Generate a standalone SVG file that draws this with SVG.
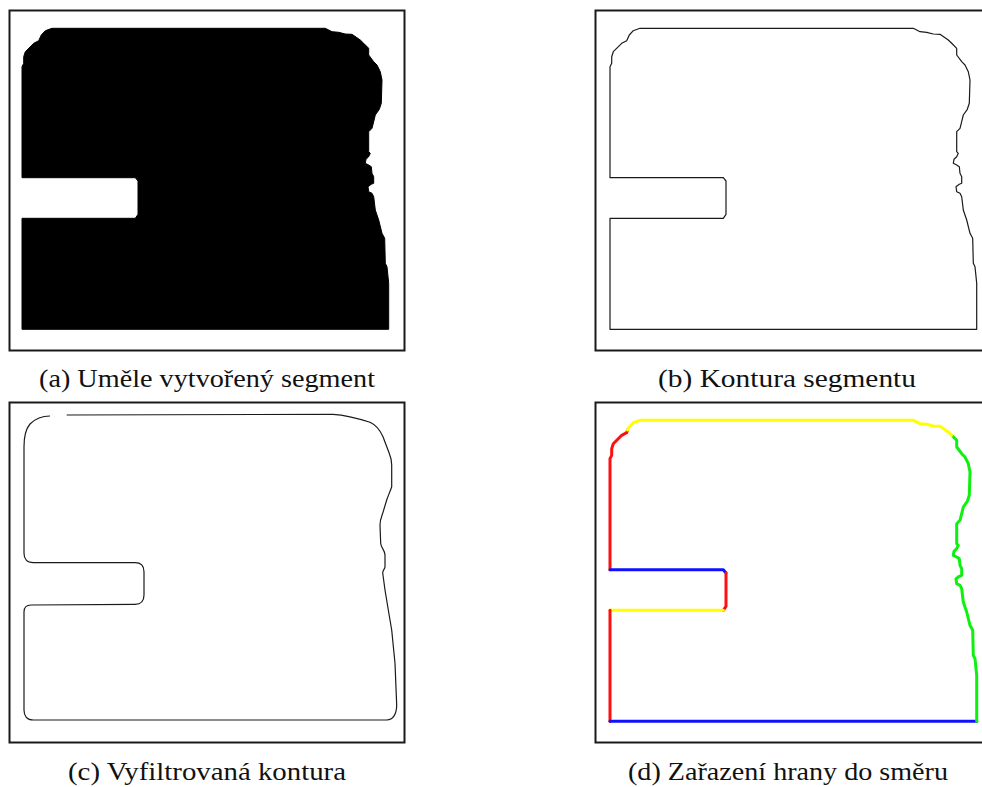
<svg xmlns="http://www.w3.org/2000/svg" width="982" height="787" viewBox="0 0 982 787">
  <defs>
    <!-- outline of the artificial segment, in panel (b) coordinates -->
    <path id="seg" d="M640,28.3 L913.3,28.3 L920,31.7 L926.7,32.3 L933.3,34 L940,34.3 L948.3,40 L951.7,43.3 L956.7,48.3 L956.7,55 L961.7,61.7 L965,65 L968.3,71.7 L970,80 L969.3,103.3 L967.3,109.3 L963.3,115 L961.7,121.7 L960,128.3 L956.7,131.7 L956.7,151.7 L958.3,153.3 L956.7,156.7 L954,159.3 L953.3,163.3 L956.7,165 L959.3,166.7 L960,173.3 L961.7,176.7 L961.7,183.3 L959.3,184.3 L956,186.7 L956.7,191.7 L960,193.3 L961.7,196.7 L963.3,210 L966.7,220 L970,233.3 L972.7,238.3 L973.3,263.3 L975,266.7 L976.7,283.3 L976.7,329.3 L610,329.3 L610,218.3 L723.3,218.3 L726,214.3 L726,181 L723.3,177.7 L610,177.7 L610,66.7 L611.7,63.3 L611.7,56.7 L613.3,51.7 L621.7,43.3 L626.7,40.7 L629.3,35 L633.3,30.7 Z"/>
  </defs>
  <style>
    .frame { fill: none; stroke: #1a1a1a; stroke-width: 2; }
    .thin { fill: none; stroke: #1a1a1a; stroke-width: 1.2; stroke-linejoin: round; }
    .dir { fill: none; stroke-width: 3; stroke-linejoin: round; stroke-linecap: round; }
    .cap { font-family: "Liberation Serif", "DejaVu Serif", serif; font-size: 26px; fill: #111; text-anchor: middle; }
  </style>
  <rect width="982" height="787" fill="#fff"/>

  <!-- (a) filled segment -->
  <g id="panel-a">
    <rect class="frame" x="9.5" y="10.5" width="395" height="340"/>
    <use href="#seg" transform="translate(-588,0)" fill="#000" stroke="#000" stroke-width="1"/>
    <text class="cap" x="207" y="387" textLength="336" lengthAdjust="spacingAndGlyphs">(a) Uměle vytvořený segment</text>
  </g>

  <!-- (b) segment contour -->
  <g id="panel-b">
    <rect class="frame" x="595.5" y="10.5" width="400" height="340"/>
    <use href="#seg" class="thin"/>
    <text class="cap" x="787" y="387" textLength="258" lengthAdjust="spacingAndGlyphs">(b) Kontura segmentu</text>
  </g>

  <!-- (c) filtered contour -->
  <g id="panel-c">
    <rect class="frame" x="9.5" y="402.5" width="395" height="340"/>
    <path class="thin" stroke-width="1.4" d="M66.7,415 L333,414.3 C345,415 360,419 370,422.3 C376,425 380,430 383,436.7 L388,450 C390,455 391.7,458 391.7,465 L391.7,486.7 C390,492 388,496 386.7,500 L382.7,513.3 C381,518 380,520 380,525 L380.7,543.3 C381,548 385,550 385,555 L385,566.7 C385,569 382.7,570 382.7,573 L385,590 L388.3,610 L391.7,630 L395,663.3 L396.7,705 C396.7,714 393,720 386.7,720 L33.3,720 C27,720 24,716 24,710 L24,612 C24,607 26,605 31,605 L135,604.3 C141,604.3 144,601 144,595 L144,571.7 C144,566 141,562.7 135,562.7 L33.3,562.7 C27,562.7 24,559 24,553.3 L24,446.7 C24,438 25,430 30,424 C35,419 42,416 50,416"/>
    <text class="cap" x="207" y="780" textLength="278" lengthAdjust="spacingAndGlyphs">(c) Vyfiltrovaná kontura</text>
  </g>

  <!-- (d) edges classified by direction -->
  <g id="panel-d">
    <rect class="frame" x="595.5" y="402.5" width="400" height="340"/>
    <g transform="translate(0,392)">
      <path class="dir" stroke="#ff1010" d="M627.5,38 L626.7,40.7 L621.7,43.3 L613.3,51.7 L611.7,56.7 L611.7,63.3 L610,66.7 L610,177.7"/>
      <path class="dir" stroke="#1010ff" d="M610,177.7 L723.3,177.7 L726,181"/>
      <path class="dir" stroke="#ff1010" d="M726,181 L726,214.3 L723.3,218.3"/>
      <path class="dir" stroke="#ffff00" d="M723.3,218.3 L610,218.3"/>
      <path class="dir" stroke="#ff1010" d="M610,218.3 L610,329.3"/>
      <path class="dir" stroke="#1010ff" d="M610,329.3 L976.7,329.3"/>
      <path class="dir" stroke="#10f010" d="M976.7,329.3 L976.7,283.3 L975,266.7 L973.3,263.3 L972.7,238.3 L970,233.3 L966.7,220 L963.3,210 L961.7,196.7 L960,193.3 L956.7,191.7 L956,186.7 L959.3,184.3 L961.7,183.3 L961.7,176.7 L960,173.3 L959.3,166.7 L956.7,165 L953.3,163.3 L954,159.3 L956.7,156.7 L958.3,153.3 L956.7,151.7 L956.7,131.7 L960,128.3 L961.7,121.7 L963.3,115 L967.3,109.3 L969.3,103.3 L970,80 L968.3,71.7 L965,65 L961.7,61.7 L956.7,55 L956.7,48.3 L951.7,43.3"/>
      <path class="dir" stroke="#ffff00" d="M951.7,43.3 L948.3,40 L940,34.3 L933.3,34 L926.7,32.3 L920,31.7 L913.3,28.3 L640,28.3 L633.3,30.7 L629.3,35 L627.5,38"/>
    </g>
    <text class="cap" x="788" y="780" textLength="320" lengthAdjust="spacingAndGlyphs">(d) Zařazení hrany do směru</text>
  </g>
</svg>
